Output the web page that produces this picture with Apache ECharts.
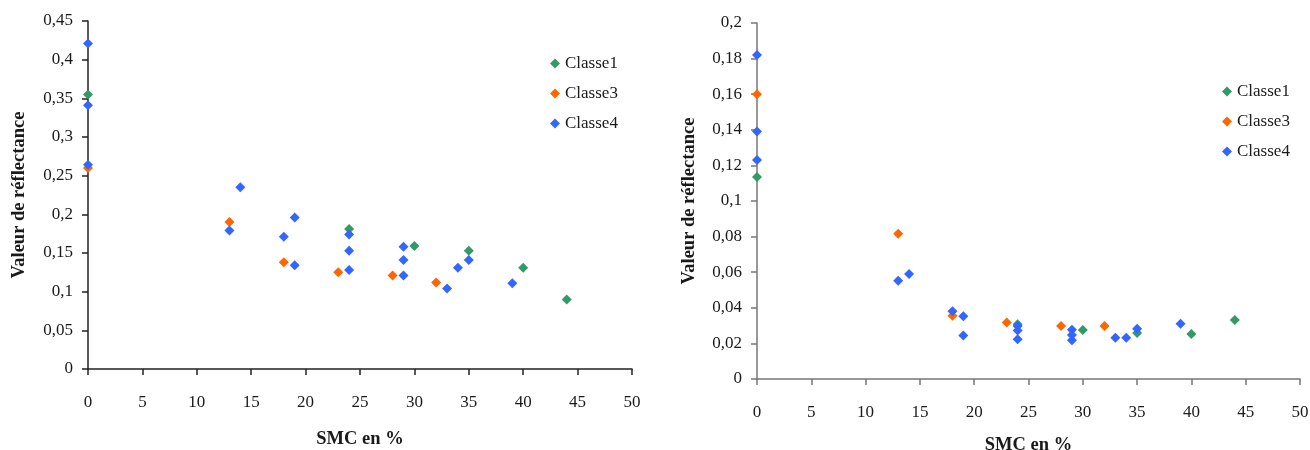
<!DOCTYPE html>
<html>
<head>
<meta charset="utf-8">
<script src="https://cdn.jsdelivr.net/npm/echarts@6/dist/echarts.min.js"></script>
<style>
  html, body { margin: 0; padding: 0; background: #fff; }
  #chart { width: 1310px; height: 450px; }
</style>
</head>
<body>
<div id="chart"></div>
<script>
var names = ['Classe1', 'Classe3', 'Classe4'];
var colors = ['#339966', '#FF6600', '#3366FF'];

// left chart : [SMC %, reflectance]
var left1 = [[0, 0.355], [24, 0.181], [30, 0.159], [35, 0.153], [40, 0.131], [44, 0.090]];
var left3 = [[0, 0.260], [13, 0.190], [18, 0.138], [23, 0.125], [28, 0.121], [32, 0.112]];
var left4 = [[0, 0.421], [0, 0.341], [0, 0.264], [13, 0.179], [14, 0.235], [18, 0.171],
    [19, 0.196], [19, 0.134], [24, 0.174], [24, 0.153], [24, 0.128], [29, 0.158],
    [29, 0.141], [29, 0.121], [33, 0.104], [34, 0.131], [35, 0.141], [39, 0.111]];

// right chart
var right1 = [[0, 0.1135], [24, 0.0307], [30, 0.0275], [35, 0.0258], [40, 0.0253], [44, 0.0331]];
var right3 = [[0, 0.160], [13, 0.0816], [18, 0.0356], [23, 0.0318], [28, 0.0298], [32, 0.0298]];
var right4 = [[0, 0.182], [0, 0.139], [0, 0.123], [13, 0.0552], [14, 0.059], [18, 0.038],
    [19, 0.0352], [19, 0.0245], [24, 0.0298], [24, 0.0273], [24, 0.0223], [29, 0.0277],
    [29, 0.0247], [29, 0.0217], [33, 0.0232], [34, 0.0232], [35, 0.0283], [39, 0.0311]];

var font = 'Liberation Serif';
var txt = '#1a1a1a';

function comma(v) {
    return String(v).replace('.', ',');
}

function xAx(idx, lineColor, gap) {
    return {
        gridIndex: idx,
        type: 'value',
        min: 0, max: 50, interval: 5,
        name: 'SMC en %',
        nameLocation: 'middle',
        nameGap: gap,
        nameTextStyle: { fontFamily: font, fontSize: 18.5, fontWeight: 'bold', color: txt },
        axisLine: { lineStyle: { color: lineColor, width: 1.5 } },
        axisTick: { length: 6, lineStyle: { color: lineColor, width: 1.5 } },
        axisLabel: { margin: 25, fontFamily: font, fontSize: 17, color: txt },
        splitLine: { show: false }
    };
}

function yAx(idx, max, interval, lineColor, gap) {
    return {
        gridIndex: idx,
        type: 'value',
        min: 0, max: max, interval: interval,
        name: 'Valeur de réflectance',
        nameLocation: 'middle',
        nameGap: gap,
        nameTextStyle: { fontFamily: font, fontSize: 18.5, fontWeight: 'bold', color: txt },
        axisLine: { show: true, lineStyle: { color: lineColor, width: 1.5 } },
        axisTick: { show: true, length: 6, lineStyle: { color: lineColor, width: 1.5 } },
        axisLabel: { margin: 15, fontFamily: font, fontSize: 17, color: txt, formatter: comma },
        splitLine: { show: false }
    };
}

function sc(name, i, xi, data) {
    return {
        name: name,
        type: 'scatter',
        xAxisIndex: xi,
        yAxisIndex: xi,
        symbol: 'diamond',
        symbolSize: 10,
        itemStyle: { color: colors[i], opacity: 1 },
        data: data
    };
}

var legendStyle = {
    orient: 'vertical',
    data: names,
    icon: 'diamond',
    itemWidth: 10,
    itemHeight: 10,
    itemGap: 13,
    textStyle: { fontFamily: font, fontSize: 17, color: txt }
};

var option = {
    animation: false,
    legend: [
        Object.assign({ left: 545, top: 50 }, legendStyle),
        Object.assign({ left: 1217, top: 78 }, legendStyle)
    ],
    grid: [
        { left: 88, top: 21, width: 544, height: 348, outerBoundsMode: 'none' },
        { left: 757, top: 23, width: 543, height: 356, outerBoundsMode: 'none' }
    ],
    xAxis: [xAx(0, '#222', 61), xAx(1, '#777', 57)],
    yAxis: [yAx(0, 0.45, 0.05, '#222', 59), yAx(1, 0.2, 0.02, '#777', 58)],
    series: [
        sc(names[0], 0, 0, left1),
        sc(names[1], 1, 0, left3),
        sc(names[2], 2, 0, left4),
        sc(names[0], 0, 1, right1),
        sc(names[1], 1, 1, right3),
        sc(names[2], 2, 1, right4)
    ]
};

var chart = echarts.init(document.getElementById('chart'));
chart.setOption(option);
</script>
</body>
</html>
